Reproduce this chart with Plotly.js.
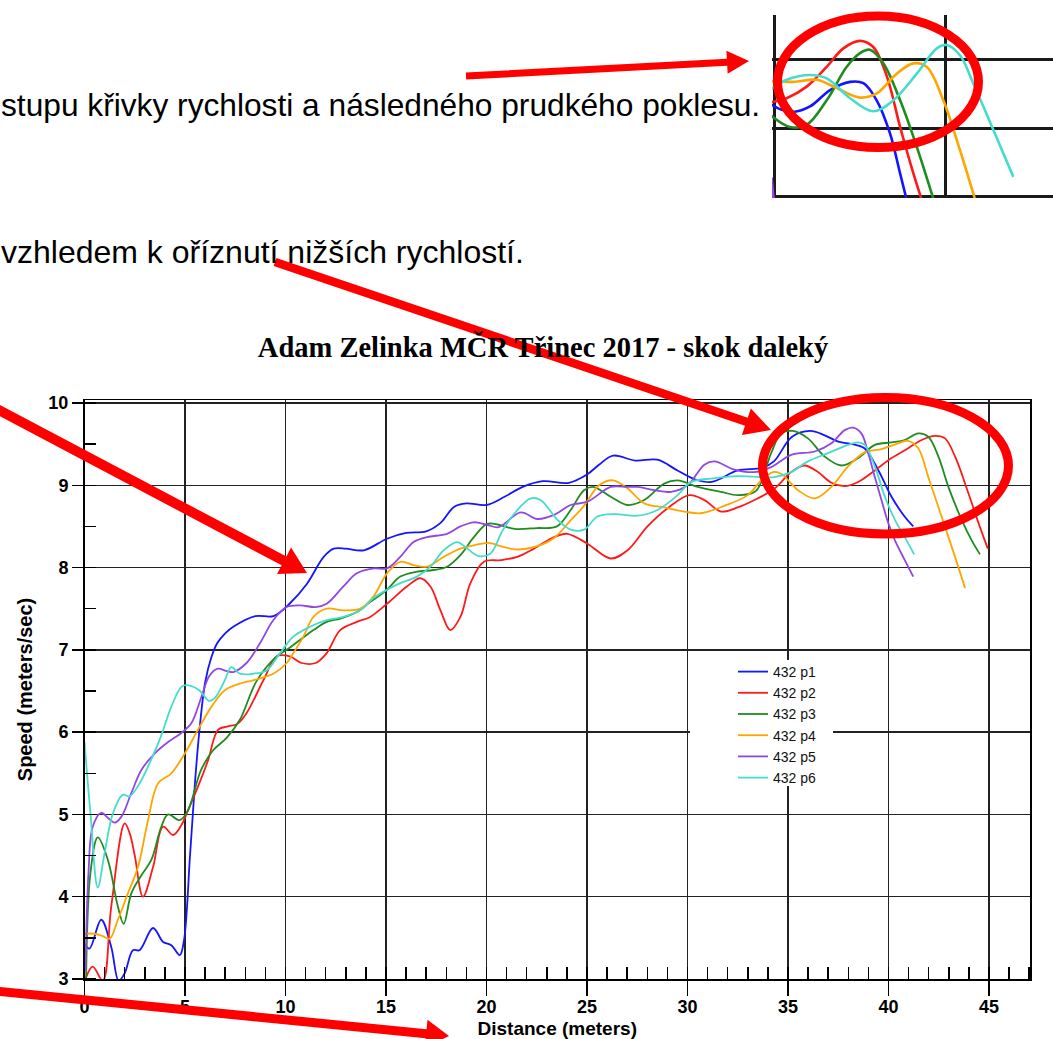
<!DOCTYPE html>
<html><head><meta charset="utf-8">
<script src="https://cdn.plot.ly/plotly-3.0.1.min.js"></script>
<style>html,body{margin:0;padding:0;background:#fff;overflow:hidden}#chart{width:1053px;height:1039px}</style>
</head><body><div id="chart"></div>
<script>
const W = 1053, H = 1039;

// ---- main chart data ----
const seriesNames = ['432 p1', '432 p2', '432 p3', '432 p4', '432 p5', '432 p6'];
const seriesColors = ['#1414ff', '#ff1a1a', '#1e8c1e', '#ffa500', '#9146e6', '#45dccd'];

const p1X = [0, 0.25, 0.83, 1.33, 1.7, 2.0, 2.41, 2.74, 3.41, 3.91, 4.32, 4.74, 4.95, 5.25, 5.5, 5.75, 6.0, 6.3, 6.6, 7.0, 7.4, 8.5, 9.4, 10.2, 11.06, 11.9, 12.4, 13.0, 13.9, 15.05, 16.0, 17.0, 17.7, 18.4, 19.0, 20.0, 20.9, 21.8, 22.8, 24.1, 25.0, 25.6, 26.3, 27.4, 28.5, 29.5, 30.4, 31.2, 32.5, 33.7, 34.3, 35.2, 36.1, 36.8, 37.5, 38.2, 38.8, 39.5, 40.15, 40.8, 41.23];
const p1Y = [3.43, 3.37, 3.72, 3.39, 2.98, 3.07, 3.35, 3.35, 3.62, 3.45, 3.41, 3.29, 3.47, 4.5, 5.4, 6.1, 6.6, 6.9, 7.08, 7.2, 7.28, 7.41, 7.41, 7.56, 7.80, 8.13, 8.23, 8.23, 8.21, 8.35, 8.42, 8.44, 8.54, 8.74, 8.78, 8.76, 8.86, 8.98, 9.05, 9.03, 9.13, 9.25, 9.36, 9.30, 9.31, 9.18, 9.07, 9.04, 9.18, 9.21, 9.29, 9.59, 9.66, 9.61, 9.53, 9.50, 9.45, 9.18, 8.86, 8.62, 8.50];

const p2X = [0.05, 0.41, 0.91, 1.33, 2.0, 2.25, 2.5, 2.91, 3.41, 3.91, 4.41, 4.82, 5.15, 5.65, 6.15, 6.65, 7.15, 7.6, 8.06, 8.9, 9.56, 10.22, 10.8, 11.5, 12.05, 12.72, 13.55, 14.21, 15.05, 16.04, 16.71, 17.21, 17.71, 18.2, 18.7, 19.2, 19.87, 20.7, 21.53, 22.36, 23.36, 24.02, 25.02, 26.18, 27.02, 28.01, 29.01, 30.09, 30.84, 31.67, 32.5, 33.33, 34.33, 35.16, 35.83, 36.49, 37.16, 37.82, 38.49, 39.32, 40.15, 40.98, 41.65, 42.31, 42.81, 43.31, 43.98, 44.48, 44.94];
const p2Y = [3.0, 3.15, 2.98, 3.88, 4.89, 4.77, 4.5, 4.0, 4.36, 4.85, 4.75, 4.87, 5.05, 5.34, 5.66, 6.03, 6.07, 6.1, 6.23, 6.63, 6.92, 6.92, 6.84, 6.84, 6.96, 7.24, 7.34, 7.40, 7.56, 7.77, 7.87, 7.77, 7.48, 7.24, 7.40, 7.81, 8.07, 8.09, 8.13, 8.23, 8.37, 8.41, 8.29, 8.11, 8.21, 8.50, 8.72, 8.88, 8.82, 8.68, 8.73, 8.82, 8.96, 9.16, 9.24, 9.16, 9.03, 8.99, 9.04, 9.18, 9.33, 9.45, 9.55, 9.60, 9.57, 9.35, 8.90, 8.54, 8.23];

const p3X = [0.08, 0.3, 0.66, 1.16, 1.66, 1.95, 2.33, 2.83, 3.33, 3.82, 4.16, 4.74, 5.15, 5.8, 6.4, 7.07, 7.73, 8.56, 9.56, 10.06, 10.72, 11.39, 12.05, 12.72, 13.55, 14.21, 15.05, 15.71, 16.54, 17.37, 18.04, 18.7, 19.37, 20.03, 20.6, 21.4, 22.5, 23.5, 24.19, 24.85, 25.3, 26.18, 27.02, 27.85, 28.84, 29.51, 30.51, 31.67, 32.5, 33.4, 34.16, 34.66, 35.24, 35.99, 36.82, 37.66, 38.49, 39.32, 40.15, 40.81, 41.48, 41.98, 42.48, 42.98, 43.64, 44.14, 44.55];
const p3Y = [3.0, 4.3, 4.72, 4.45, 3.88, 3.67, 4.04, 4.26, 4.45, 4.85, 5.0, 4.93, 5.05, 5.54, 5.78, 5.93, 6.15, 6.62, 6.92, 7.0, 7.12, 7.24, 7.34, 7.38, 7.46, 7.58, 7.73, 7.89, 7.95, 7.97, 8.01, 8.15, 8.37, 8.53, 8.52, 8.47, 8.48, 8.50, 8.70, 8.94, 8.98, 8.86, 8.76, 8.82, 9.02, 9.06, 8.98, 8.92, 8.88, 8.93, 9.39, 9.63, 9.66, 9.57, 9.35, 9.24, 9.33, 9.49, 9.52, 9.55, 9.63, 9.59, 9.35, 8.98, 8.58, 8.33, 8.16];

const p4X = [0, 0.5, 0.91, 1.25, 1.66, 2.16, 2.66, 3.16, 3.66, 4.32, 4.99, 5.65, 6.32, 6.98, 7.73, 8.39, 9.39, 10.06, 10.39, 10.89, 11.39, 12.05, 12.88, 13.72, 14.38, 15.05, 15.71, 16.37, 17.04, 17.87, 18.7, 19.37, 20.1, 20.7, 21.45, 22.4, 23.36, 24.1, 24.85, 25.6, 26.3, 27.02, 27.85, 28.84, 29.84, 30.67, 31.83, 33.0, 33.67, 34.25, 34.66, 35.5, 36.33, 37.16, 37.99, 38.82, 39.65, 40.48, 40.98, 41.48, 41.98, 42.64, 43.31, 43.81];
const p4Y = [3.55, 3.55, 3.52, 3.49, 3.72, 4.04, 4.36, 4.93, 5.38, 5.5, 5.74, 6.03, 6.31, 6.51, 6.59, 6.63, 6.71, 6.84, 6.96, 7.16, 7.40, 7.50, 7.48, 7.50, 7.65, 7.93, 8.07, 8.03, 8.01, 8.13, 8.23, 8.27, 8.30, 8.26, 8.22, 8.25, 8.36, 8.55, 8.75, 9.0, 9.06, 8.96, 8.78, 8.73, 8.68, 8.66, 8.75, 8.88, 9.06, 9.16, 9.14, 8.94, 8.84, 8.98, 9.23, 9.40, 9.44, 9.51, 9.54, 9.45, 9.10, 8.62, 8.13, 7.75];

const p5X = [0.05, 0.2, 0.41, 0.83, 1.2, 1.5, 1.83, 2.33, 2.83, 3.49, 4.16, 4.82, 5.32, 5.82, 6.2, 6.6, 7.1, 7.4, 8.06, 8.73, 9.39, 10.06, 10.72, 11.5, 12.05, 12.88, 13.55, 14.38, 15.05, 15.71, 16.37, 17.04, 18.04, 18.7, 19.37, 20.03, 20.6, 21.7, 22.53, 23.36, 24.19, 25.02, 26.18, 27.0, 27.52, 28.35, 29.18, 30.0, 30.84, 31.34, 32.33, 33.33, 34.16, 35.16, 36.33, 37.16, 37.82, 38.24, 38.65, 38.99, 39.32, 39.65, 39.99, 40.32, 40.81, 41.23];
const p5Y = [3.1, 4.3, 4.85, 5.02, 4.95, 4.90, 4.97, 5.26, 5.54, 5.74, 5.88, 5.99, 6.11, 6.43, 6.68, 6.77, 6.74, 6.73, 6.84, 7.08, 7.36, 7.52, 7.54, 7.52, 7.56, 7.77, 7.93, 7.99, 7.99, 8.13, 8.31, 8.37, 8.41, 8.50, 8.55, 8.52, 8.49, 8.67, 8.59, 8.64, 8.76, 8.80, 8.98, 8.98, 8.98, 8.94, 8.92, 9.0, 9.25, 9.29, 9.19, 9.16, 9.22, 9.37, 9.41, 9.51, 9.67, 9.70, 9.63, 9.39, 9.10, 8.82, 8.54, 8.33, 8.09, 7.89];

const p6X = [0, 0.3, 0.66, 1.0, 1.41, 1.91, 2.24, 2.7, 3.38, 3.82, 4.32, 4.82, 5.1, 5.7, 6.2, 6.5, 6.98, 7.3, 7.73, 8.39, 9.06, 9.73, 10.39, 11.22, 12.05, 12.88, 13.72, 14.38, 15.05, 15.71, 16.54, 17.21, 17.87, 18.54, 19.04, 19.6, 20.2, 20.8, 21.4, 22.2, 22.69, 23.53, 24.19, 24.85, 25.52, 26.35, 27.52, 28.51, 29.51, 30.17, 31.17, 32.5, 33.67, 34.33, 35.16, 35.99, 36.99, 37.99, 38.49, 38.82, 39.32, 39.82, 40.32, 40.81, 41.28];
const p6Y = [5.88, 5.0, 4.11, 4.53, 5.01, 5.24, 5.22, 5.36, 5.70, 5.96, 6.31, 6.55, 6.57, 6.51, 6.38, 6.42, 6.63, 6.79, 6.71, 6.71, 6.75, 6.96, 7.16, 7.28, 7.36, 7.40, 7.48, 7.63, 7.73, 7.81, 7.89, 8.01, 8.21, 8.31, 8.23, 8.14, 8.17, 8.45, 8.66, 8.84, 8.82, 8.58, 8.46, 8.46, 8.62, 8.65, 8.63, 8.70, 8.88, 9.04, 9.08, 9.11, 9.10, 9.10, 9.16, 9.29, 9.39, 9.49, 9.52, 9.49, 9.23, 8.86, 8.58, 8.37, 8.16];

// ---- inset (cropped chart at the top right) ----
const insetColors = ['#1414ff', '#ff1a1a', '#1e8c1e', '#ffa500', '#45dccd', '#9146e6'];
const inBlueX = [34.85, 35.2, 35.54, 36.03, 36.62, 37.21, 37.6, 37.99, 38.38, 38.68, 38.9];
const inBlueY = [8.36, 8.27, 8.24, 8.32, 8.56, 8.68, 8.66, 8.41, 7.93, 7.34, 6.9];
const inRedX = [34.85, 35.34, 35.93, 36.52, 37.01, 37.5, 37.89, 38.29, 38.68, 39.07, 39.35];
const inRedY = [8.38, 8.44, 8.61, 8.90, 9.17, 9.28, 9.19, 8.76, 8.02, 7.34, 6.9];
const inGreenX = [34.85, 35.44, 35.93, 36.52, 37.11, 37.5, 37.79, 38.19, 38.68, 39.17, 39.7];
const inGreenY = [8.2, 8.02, 8.05, 8.41, 8.90, 9.10, 9.15, 8.95, 8.41, 7.73, 6.9];
const inOrangeX = [34.85, 35.54, 36.23, 36.81, 37.5, 37.99, 38.58, 39.07, 39.46, 39.95, 40.44, 40.92];
const inOrangeY = [8.69, 8.68, 8.71, 8.59, 8.45, 8.51, 8.80, 8.95, 8.90, 8.41, 7.68, 6.9];
const inCyanX = [34.85, 35.34, 36.03, 36.52, 37.21, 37.89, 38.48, 39.17, 39.76, 40.05, 40.44, 40.83, 41.42, 42.01];
const inCyanY = [8.56, 8.71, 8.78, 8.73, 8.44, 8.25, 8.41, 8.80, 9.17, 9.22, 9.07, 8.66, 7.98, 7.29];
const inPurpleX = [34.9, 34.93, 34.96];
const inPurpleY = [7.28, 7.12, 6.95];

// ---- texts ----
const titleText = 'Adam Zelinka MČR Třinec 2017 - skok daleký';
const xTitle = 'Distance (meters)';
const yTitle = 'Speed (meters/sec)';
const line1 = 'stupu křivky rychlosti a následného prudkého poklesu.';
const line2 = 'vzhledem k oříznutí nižších rychlostí.';

// pixel -> paper helpers for decorations
const PX = p => p / W;
const PY = p => 1 - p / H;

const mainXs = [p1X, p2X, p3X, p4X, p5X, p6X];
const mainYs = [p1Y, p2Y, p3Y, p4Y, p5Y, p6Y];
const traces = mainXs.map((xs, i) => ({
  type: 'scatter', mode: 'lines', x: xs, y: mainYs[i], name: seriesNames[i],
  line: {color: seriesColors[i], width: 1.8, shape: 'spline', smoothing: 1},
  xaxis: 'x', yaxis: 'y', hoverinfo: 'skip'
}));
const insX = [inBlueX, inRedX, inGreenX, inOrangeX, inCyanX, inPurpleX];
const insY = [inBlueY, inRedY, inGreenY, inOrangeY, inCyanY, inPurpleY];
insX.forEach((xs, i) => traces.push({
  type: 'scatter', mode: 'lines', x: xs, y: insY[i], showlegend: false,
  line: {color: insetColors[i], width: 2.6, shape: 'spline', smoothing: 1},
  xaxis: 'x2', yaxis: 'y2', hoverinfo: 'skip'
}));

function arrowPath(x1, y1, x2, y2, sw, hl, hw) {
  const dx = x2 - x1, dy = y2 - y1, L = Math.hypot(dx, dy);
  const ux = dx / L, uy = dy / L, nx = -uy, ny = ux;
  const bx = x2 - ux * hl, by = y2 - uy * hl;
  const pts = [
    [x1 + nx * sw / 2, y1 + ny * sw / 2],
    [bx + nx * sw / 2, by + ny * sw / 2],
    [bx + nx * hw / 2, by + ny * hw / 2],
    [x2, y2],
    [bx - nx * hw / 2, by - ny * hw / 2],
    [bx - nx * sw / 2, by - ny * sw / 2],
    [x1 - nx * sw / 2, y1 - ny * sw / 2]
  ];
  return 'M' + pts.map(p => PX(p[0]).toFixed(5) + ',' + PY(p[1]).toFixed(5)).join('L') + 'Z';
}
const RED = '#ff0000';
const shapes = [
  // legend background (masks grid like the reference)
  {type: 'rect', xref: 'paper', yref: 'paper', x0: PX(690), x1: PX(833), y0: PY(786), y1: PY(660),
   fillcolor: '#ffffff', line: {width: 0}, layer: 'above'},
  {type: 'circle', xref: 'paper', yref: 'paper', x0: PX(777.5), x1: PX(978.5), y0: PY(147.5), y1: PY(16),
   line: {color: RED, width: 9}},
  {type: 'circle', xref: 'paper', yref: 'paper', x0: PX(762.5), x1: PX(1008.5), y0: PY(534), y1: PY(397.5),
   line: {color: RED, width: 9}},
  {type: 'path', xref: 'paper', yref: 'paper', path: arrowPath(466, 76, 749, 61, 7, 22, 23), fillcolor: RED, line: {width: 0}},
  {type: 'path', xref: 'paper', yref: 'paper', path: arrowPath(275, 262, 771, 430, 8.5, 26, 28), fillcolor: RED, line: {width: 0}},
  {type: 'path', xref: 'paper', yref: 'paper', path: arrowPath(-5, 408, 307, 573, 10, 26, 30), fillcolor: RED, line: {width: 0}},
  {type: 'path', xref: 'paper', yref: 'paper', path: arrowPath(-5, 991, 449, 1036, 9, 23, 28), fillcolor: RED, line: {width: 0}}
];

const annotations = [
  {xref: 'paper', yref: 'paper', x: PX(-1), y: PY(105), xanchor: 'left', yanchor: 'middle', showarrow: false,
   text: line1, font: {family: 'Liberation Sans, Arial, sans-serif', size: 31.7, color: '#000'}},
  {xref: 'paper', yref: 'paper', x: PX(-1), y: PY(252), xanchor: 'left', yanchor: 'middle', showarrow: false,
   text: line2, font: {family: 'Liberation Sans, Arial, sans-serif', size: 32, color: '#000'}}
];

const axFont = {family: 'Liberation Sans, Arial, sans-serif', size: 18, color: '#000', weight: 'bold'};
const layout = {
  width: W, height: H, autosize: false,
  margin: {l: 0, r: 0, t: 0, b: 0, pad: 0},
  paper_bgcolor: '#fff', plot_bgcolor: '#fff',
  title: {text: titleText, x: PX(543), xref: 'paper', xanchor: 'center', y: PY(347), yref: 'paper', yanchor: 'middle',
    font: {family: 'Liberation Serif, Times New Roman, serif', size: 28.5, color: '#000', weight: 'bold'}},
  xaxis: {
    domain: [PX(84.5), PX(1030)], range: [0, 47.04], anchor: 'y',
    tick0: 0, dtick: 5, showgrid: true, gridcolor: '#222', gridwidth: 1.5,
    zeroline: false, showline: true, linecolor: '#000', linewidth: 1.5, mirror: true,
    ticks: 'outside', ticklen: 15, tickwidth: 1.5, tickcolor: '#000', ticklabelstandoff: -4,
    minor: {dtick: 1, tick0: 0, ticks: 'inside', ticklen: 12, tickwidth: 1.5, tickcolor: '#000', showgrid: false},
    tickfont: axFont,
    title: {text: xTitle, font: {family: 'Liberation Sans, Arial, sans-serif', size: 19, color: '#000', weight: 'bold'}, standoff: 9}
  },
  yaxis: {
    domain: [PY(979), PY(400)], range: [3, 10.036], anchor: 'x',
    tick0: 0, dtick: 1, showgrid: true, gridcolor: '#222', gridwidth: 1.5,
    zeroline: false, showline: true, linecolor: '#000', linewidth: 1.5, mirror: true,
    ticks: 'outside', ticklen: 11, tickwidth: 1.5, tickcolor: '#000',
    minor: {dtick: 0.5, tick0: 0, ticks: 'inside', ticklen: 11, tickwidth: 1.5, tickcolor: '#000', showgrid: false},
    tickfont: axFont,
    title: {text: yTitle, font: {family: 'Liberation Sans, Arial, sans-serif', size: 20, color: '#000', weight: 'bold'}, standoff: 10}
  },
  xaxis2: {
    domain: [PX(772), 1], range: [34.912, 43.176], anchor: 'y2',
    tick0: 0, dtick: 5, showgrid: true, gridcolor: '#1a1a1a', gridwidth: 3,
    zeroline: false, showline: false, showticklabels: false, ticks: ''
  },
  yaxis2: {
    domain: [PY(198), PY(15)], range: [6.981, 9.658], anchor: 'x2',
    tick0: 0, dtick: 1, showgrid: true, gridcolor: '#1a1a1a', gridwidth: 3,
    zeroline: false, showline: false, showticklabels: false, ticks: ''
  },
  showlegend: true,
  legend: {x: PX(733), y: PY(656), xanchor: 'left', yanchor: 'top', xref: 'paper', yref: 'paper',
    bgcolor: 'rgba(0,0,0,0)', borderwidth: 0,
    font: {family: 'Liberation Sans, Arial, sans-serif', size: 14, color: '#111'}},
  shapes: shapes,
  annotations: annotations
};

Plotly.newPlot('chart', traces, layout, {staticPlot: true, displayModeBar: false});
</script></body></html>
